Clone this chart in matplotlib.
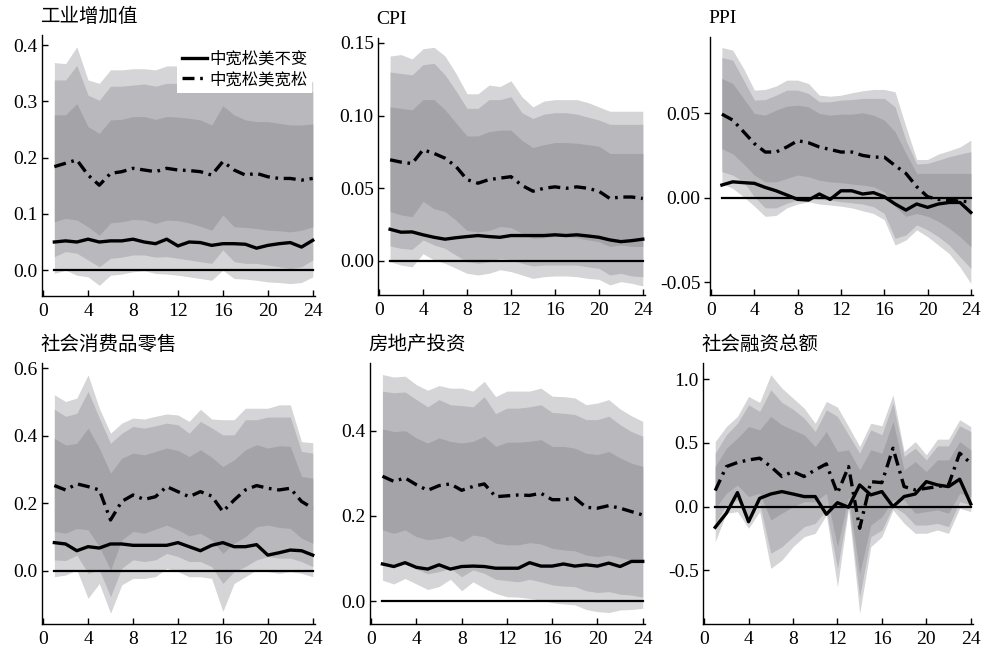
import numpy as np
import matplotlib
matplotlib.use("Agg")
import matplotlib.pyplot as plt

plt.rcParams['font.family'] = ['Liberation Serif', 'Noto Sans CJK SC', 'DejaVu Sans']
plt.rcParams['axes.unicode_minus'] = True

months = np.arange(1, 25)

# --- 工业增加值 ---
ip_base = [0.050, 0.052, 0.050, 0.055, 0.050, 0.052, 0.052, 0.055, 0.050, 0.047, 0.055, 0.043,
           0.050, 0.049, 0.044, 0.047, 0.047, 0.046, 0.039, 0.044, 0.047, 0.049, 0.041, 0.053]
ip_ease = [0.184, 0.190, 0.196, 0.169, 0.151, 0.172, 0.175, 0.181, 0.178, 0.175, 0.181, 0.178,
           0.177, 0.175, 0.169, 0.193, 0.178, 0.169, 0.172, 0.166, 0.163, 0.163, 0.160, 0.163]
ip_hi1 = [0.369, 0.367, 0.397, 0.338, 0.332, 0.356, 0.356, 0.358, 0.358, 0.356, 0.363, 0.363,
          0.362, 0.358, 0.356, 0.360, 0.352, 0.350, 0.350, 0.348, 0.348, 0.345, 0.335, 0.335]
ip_hi2 = [0.338, 0.338, 0.364, 0.311, 0.302, 0.327, 0.327, 0.329, 0.331, 0.327, 0.332, 0.332,
          0.330, 0.328, 0.325, 0.330, 0.325, 0.322, 0.320, 0.320, 0.318, 0.317, 0.317, 0.317]
ip_hi3 = [0.276, 0.276, 0.296, 0.255, 0.243, 0.267, 0.268, 0.273, 0.273, 0.268, 0.273, 0.272,
          0.270, 0.267, 0.258, 0.292, 0.276, 0.267, 0.264, 0.264, 0.261, 0.258, 0.258, 0.260]
ip_lo3 = [0.086, 0.092, 0.089, 0.077, 0.062, 0.084, 0.086, 0.090, 0.089, 0.083, 0.089, 0.088,
          0.084, 0.078, 0.071, 0.098, 0.077, 0.076, 0.074, 0.071, 0.070, 0.068, 0.071, 0.077]
ip_lo2 = [0.024, 0.033, 0.030, 0.018, 0.006, 0.021, 0.023, 0.027, 0.027, 0.023, 0.024, 0.021,
          0.018, 0.015, 0.012, 0.036, 0.015, 0.012, 0.012, 0.009, 0.006, 0.003, 0.006, 0.018]
ip_lo1 = [-0.006, 0.000, -0.009, -0.012, -0.027, -0.009, -0.007, -0.003, -0.001, -0.006, -0.007, -0.009,
          -0.012, -0.015, -0.018, 0.000, -0.015, -0.016, -0.018, -0.021, -0.022, -0.024, -0.022, -0.012]

# --- CPI ---
cpi_base = [0.0218, 0.0198, 0.0200, 0.0180, 0.0163, 0.0150, 0.0160, 0.0168, 0.0175, 0.0168, 0.0163, 0.0175,
            0.0175, 0.0175, 0.0175, 0.0180, 0.0175, 0.0180, 0.0172, 0.0163, 0.0145, 0.0133, 0.0140, 0.0150]
cpi_ease = [0.0696, 0.068, 0.067, 0.0765, 0.074, 0.0707, 0.065, 0.056, 0.0535, 0.056, 0.057, 0.058,
            0.052, 0.048, 0.050, 0.051, 0.050, 0.051, 0.050, 0.048, 0.043, 0.044, 0.044, 0.043]
cpi_hi1 = [0.141, 0.142, 0.139, 0.146, 0.147, 0.141, 0.129, 0.115, 0.115, 0.121, 0.120, 0.124,
           0.113, 0.106, 0.110, 0.111, 0.111, 0.111, 0.109, 0.106, 0.103, 0.103, 0.103, 0.103]
cpi_hi2 = [0.130, 0.129, 0.128, 0.135, 0.136, 0.128, 0.117, 0.105, 0.105, 0.111, 0.111, 0.113,
           0.102, 0.098, 0.101, 0.102, 0.102, 0.101, 0.099, 0.097, 0.094, 0.094, 0.094, 0.094]
cpi_hi3 = [0.106, 0.105, 0.104, 0.111, 0.111, 0.104, 0.095, 0.086, 0.086, 0.089, 0.090, 0.090,
           0.083, 0.078, 0.080, 0.0815, 0.0815, 0.081, 0.080, 0.079, 0.074, 0.074, 0.074, 0.074]
cpi_lo3 = [0.034, 0.0317, 0.0305, 0.041, 0.036, 0.034, 0.028, 0.021, 0.020, 0.021, 0.0237, 0.023,
           0.019, 0.0156, 0.016, 0.0168, 0.0168, 0.016, 0.0145, 0.0133, 0.010, 0.011, 0.010, 0.010]
cpi_lo2 = [0.0103, 0.0087, 0.008, 0.0145, 0.011, 0.0087, 0.004, -0.0005, -0.0016, -0.0005, 0.0018, 0.001,
           -0.0016, -0.0034, -0.0028, -0.0028, -0.0028, -0.0028, -0.004, -0.005, -0.0096, -0.0085, -0.0103, -0.0108]
cpi_lo1 = [-0.0005, -0.0028, -0.004, 0.005, 0.0007, -0.0016, -0.005, -0.0085, -0.0096, -0.0085, -0.006, -0.0073,
           -0.0096, -0.012, -0.0108, -0.0103, -0.0103, -0.0108, -0.012, -0.0126, -0.0165, -0.0142, -0.0154, -0.0172]

# --- PPI ---
ppi_base = [0.0075, 0.0094, 0.0089, 0.0085, 0.0061, 0.0041, 0.0016, -0.001, -0.0014, 0.0022, -0.001, 0.0041,
            0.0041, 0.0022, 0.003, 0.0006, -0.0037, -0.0073, -0.0037, -0.0057, -0.0037, -0.0028, -0.0028, -0.0087]
ppi_ease = [0.0494, 0.0459, 0.039, 0.032, 0.027, 0.027, 0.030, 0.0337, 0.0325, 0.030, 0.0285, 0.027,
            0.027, 0.025, 0.024, 0.024, 0.019, 0.0144, 0.0065, 0.0006, -0.001, -0.0015, -0.002, -0.0025]
ppi_hi1 = [0.0888, 0.0872, 0.0764, 0.0636, 0.064, 0.066, 0.0695, 0.0695, 0.0675, 0.0606, 0.060, 0.0606,
           0.062, 0.0632, 0.064, 0.064, 0.0626, 0.042, 0.0226, 0.0226, 0.0258, 0.0278, 0.030, 0.034]
ppi_hi2 = [0.0829, 0.0813, 0.0695, 0.0577, 0.058, 0.0606, 0.0636, 0.0636, 0.0616, 0.0567, 0.0567, 0.0577,
           0.058, 0.0587, 0.0587, 0.0587, 0.0537, 0.034, 0.0199, 0.0203, 0.0222, 0.0242, 0.0258, 0.0272]
ppi_hi3 = [0.0705, 0.0675, 0.0587, 0.0498, 0.0488, 0.0518, 0.0541, 0.0547, 0.0537, 0.0498, 0.0488, 0.0494,
           0.0494, 0.0502, 0.0488, 0.0459, 0.039, 0.0262, 0.0144, 0.0144, 0.0144, 0.0144, 0.0144, 0.0144]
ppi_lo3 = [0.029, 0.026, 0.020, 0.0134, 0.0094, 0.0094, 0.0114, 0.0134, 0.0124, 0.0104, 0.0094, 0.0089,
           0.0081, 0.0075, 0.0065, 0.0035, -0.0053, -0.011, -0.0093, -0.011, -0.014, -0.018, -0.023, -0.029]
ppi_lo2 = [0.0154, 0.0134, 0.0094, 0.0006, -0.006, -0.006, -0.0033, -0.0014, -0.0004, -0.001, -0.0014, -0.0024,
           -0.003, -0.0037, -0.0053, -0.0093, -0.024, -0.022, -0.016, -0.019, -0.023, -0.028, -0.035, -0.0417]
ppi_lo1 = [0.0085, 0.0055, 0.0006, -0.005, -0.011, -0.0105, -0.006, -0.0037, -0.0024, -0.0037, -0.0043, -0.005,
           -0.006, -0.0077, -0.0093, -0.013, -0.028, -0.025, -0.019, -0.023, -0.028, -0.033, -0.041, -0.0506]

# --- 社会消费品零售 ---
rt_base = [0.083, 0.079, 0.059, 0.071, 0.067, 0.079, 0.079, 0.075, 0.075, 0.075, 0.075, 0.083,
           0.071, 0.059, 0.075, 0.083, 0.071, 0.071, 0.077, 0.046, 0.053, 0.061, 0.059, 0.046]
rt_ease = [0.252, 0.239, 0.257, 0.249, 0.239, 0.150, 0.205, 0.224, 0.211, 0.219, 0.249, 0.234,
           0.219, 0.234, 0.221, 0.175, 0.209, 0.239, 0.252, 0.244, 0.239, 0.244, 0.205, 0.185]
rt_hi1 = [0.521, 0.501, 0.511, 0.580, 0.481, 0.407, 0.437, 0.452, 0.449, 0.457, 0.464, 0.461,
          0.442, 0.478, 0.449, 0.447, 0.447, 0.481, 0.481, 0.481, 0.491, 0.491, 0.382, 0.379]
rt_hi2 = [0.478, 0.457, 0.466, 0.531, 0.452, 0.377, 0.407, 0.427, 0.422, 0.429, 0.437, 0.432,
          0.407, 0.442, 0.423, 0.402, 0.402, 0.447, 0.447, 0.455, 0.455, 0.455, 0.353, 0.348]
rt_hi3 = [0.392, 0.372, 0.377, 0.422, 0.363, 0.289, 0.333, 0.348, 0.343, 0.353, 0.363, 0.356,
          0.338, 0.358, 0.336, 0.308, 0.328, 0.358, 0.373, 0.363, 0.370, 0.368, 0.279, 0.274]
rt_lo3 = [0.116, 0.111, 0.125, 0.121, 0.071, 0.002, 0.091, 0.116, 0.111, 0.123, 0.135, 0.121,
          0.103, 0.111, 0.091, 0.051, 0.081, 0.101, 0.130, 0.135, 0.128, 0.125, 0.096, 0.081]
rt_lo2 = [0.032, 0.030, 0.046, -0.008, 0.002, -0.077, 0.007, 0.032, 0.027, 0.032, 0.051, 0.042,
          0.027, 0.027, 0.012, -0.038, -0.003, 0.012, 0.032, 0.042, 0.037, 0.037, 0.027, 0.012]
rt_lo1 = [-0.018, -0.013, 0.002, -0.082, -0.038, -0.126, -0.042, -0.023, -0.023, -0.018, 0.007, -0.003,
          -0.018, -0.018, -0.023, -0.121, -0.038, -0.018, 0.002, -0.003, -0.008, -0.003, -0.008, -0.018]

# --- 房地产投资 ---
re_base = [0.087, 0.081, 0.090, 0.079, 0.075, 0.085, 0.075, 0.081, 0.082, 0.081, 0.077, 0.077,
           0.077, 0.090, 0.082, 0.082, 0.087, 0.082, 0.085, 0.082, 0.089, 0.081, 0.093, 0.093]
re_ease = [0.293, 0.281, 0.289, 0.273, 0.260, 0.271, 0.275, 0.260, 0.269, 0.275, 0.245, 0.247,
           0.249, 0.248, 0.253, 0.238, 0.238, 0.242, 0.220, 0.218, 0.224, 0.218, 0.210, 0.202]
re_hi1 = [0.532, 0.526, 0.528, 0.508, 0.495, 0.506, 0.500, 0.500, 0.493, 0.516, 0.480, 0.493,
          0.493, 0.493, 0.500, 0.481, 0.480, 0.477, 0.461, 0.465, 0.473, 0.451, 0.435, 0.422]
re_hi2 = [0.493, 0.489, 0.491, 0.473, 0.456, 0.473, 0.461, 0.459, 0.456, 0.480, 0.440, 0.453,
          0.453, 0.456, 0.461, 0.443, 0.441, 0.438, 0.426, 0.426, 0.434, 0.414, 0.398, 0.387]
re_hi3 = [0.404, 0.398, 0.400, 0.383, 0.371, 0.383, 0.375, 0.371, 0.375, 0.387, 0.363, 0.373,
          0.373, 0.375, 0.379, 0.363, 0.363, 0.359, 0.347, 0.344, 0.351, 0.336, 0.324, 0.316]
re_lo3 = [0.167, 0.159, 0.167, 0.151, 0.144, 0.147, 0.153, 0.140, 0.155, 0.151, 0.136, 0.132,
          0.132, 0.137, 0.134, 0.124, 0.120, 0.118, 0.108, 0.104, 0.108, 0.102, 0.096, 0.090]
re_lo2 = [0.089, 0.081, 0.093, 0.075, 0.064, 0.069, 0.077, 0.057, 0.073, 0.065, 0.051, 0.048,
          0.045, 0.051, 0.045, 0.038, 0.035, 0.034, 0.024, 0.020, 0.022, 0.016, 0.014, 0.009]
re_lo1 = [0.049, 0.040, 0.053, 0.040, 0.027, 0.034, 0.051, 0.024, 0.045, 0.030, 0.018, 0.010,
          0.009, 0.006, 0.002, -0.004, -0.007, -0.009, -0.020, -0.025, -0.027, -0.021, -0.020, -0.017]

# --- 社会融资总额 ---
tsf_base = [-0.162, -0.052, 0.110, -0.118, 0.065, 0.099, 0.118, 0.099, 0.079, 0.079, -0.060, 0.031,
            -0.005, 0.170, 0.092, 0.118, 0.000, 0.079, 0.099, 0.196, 0.170, 0.157, 0.215, 0.021]
tsf_ease = [0.126, 0.314, 0.346, 0.366, 0.380, 0.314, 0.236, 0.275, 0.236, 0.288, 0.335, 0.105,
            0.314, -0.170, 0.196, 0.188, 0.458, 0.157, 0.131, 0.144, 0.157, 0.170, 0.419, 0.340]
tsf_hi1 = [0.510, 0.628, 0.707, 0.864, 0.817, 1.034, 0.929, 0.851, 0.772, 0.654, 0.825, 0.780,
           0.628, 0.471, 0.654, 0.634, 0.877, 0.432, 0.510, 0.406, 0.529, 0.529, 0.681, 0.628]
tsf_hi2 = [0.419, 0.563, 0.654, 0.798, 0.746, 0.916, 0.817, 0.764, 0.694, 0.589, 0.759, 0.707,
           0.563, 0.419, 0.602, 0.563, 0.812, 0.393, 0.458, 0.366, 0.476, 0.476, 0.634, 0.589]
tsf_hi3 = [0.314, 0.458, 0.537, 0.628, 0.602, 0.707, 0.641, 0.602, 0.563, 0.471, 0.589, 0.432,
           0.445, 0.288, 0.445, 0.419, 0.668, 0.288, 0.353, 0.275, 0.366, 0.366, 0.510, 0.445]
tsf_lo3 = [-0.013, 0.105, 0.170, 0.079, 0.105, -0.105, -0.052, 0.000, 0.039, 0.039, 0.105, -0.314,
           0.079, -0.524, -0.144, -0.079, 0.052, 0.052, -0.052, -0.039, -0.026, -0.052, 0.105, 0.079]
tsf_lo2 = [-0.131, 0.013, 0.052, -0.105, 0.026, -0.366, -0.314, -0.236, -0.157, -0.131, -0.026, -0.484,
           0.013, -0.707, -0.236, -0.183, 0.000, -0.052, -0.144, -0.144, -0.131, -0.157, 0.039, 0.013]
tsf_lo1 = [-0.275, -0.052, -0.039, -0.170, -0.039, -0.484, -0.419, -0.314, -0.236, -0.209, -0.065, -0.628,
           -0.013, -0.838, -0.314, -0.236, -0.026, -0.131, -0.209, -0.209, -0.183, -0.209, -0.013, -0.039]

titles = ['工业增加值', 'CPI', 'PPI', '社会消费品零售', '房地产投资', '社会融资总额']
legend_labels = ['中宽松美不变', '中宽松美宽松']

panels = [
    (ip_base, ip_ease, ip_lo1, ip_lo2, ip_lo3, ip_hi3, ip_hi2, ip_hi1),
    (cpi_base, cpi_ease, cpi_lo1, cpi_lo2, cpi_lo3, cpi_hi3, cpi_hi2, cpi_hi1),
    (ppi_base, ppi_ease, ppi_lo1, ppi_lo2, ppi_lo3, ppi_hi3, ppi_hi2, ppi_hi1),
    (rt_base, rt_ease, rt_lo1, rt_lo2, rt_lo3, rt_hi3, rt_hi2, rt_hi1),
    (re_base, re_ease, re_lo1, re_lo2, re_lo3, re_hi3, re_hi2, re_hi1),
    (tsf_base, tsf_ease, tsf_lo1, tsf_lo2, tsf_lo3, tsf_hi3, tsf_hi2, tsf_hi1),
]

# layout (pixels -> figure fractions) and axis settings
W, H = 985, 654
boxes_px = [(42, 315, 35, 296), (378, 645, 38, 295), (710, 973, 37, 295),
            (42, 315, 363, 624), (370, 645, 363, 624), (703, 973, 363, 624)]
ylims = [(-0.046, 0.418), (-0.0234, 0.1534), (-0.0575, 0.095),
         (-0.158, 0.615), (-0.054, 0.559), (-0.92, 1.126)]
yticks = [[0.0, 0.1, 0.2, 0.3, 0.4], [0.0, 0.05, 0.10, 0.15], [-0.05, 0.0, 0.05],
          [0.0, 0.2, 0.4, 0.6], [0.0, 0.2, 0.4], [-0.5, 0.0, 0.5, 1.0]]
yfmt = ['{:.1f}', '{:.2f}', '{:.2f}', '{:.1f}', '{:.1f}', '{:.1f}']

band_colors = ['#d5d5d7', '#b9b9bd', '#a4a4a8']
dash_style = (0, (3.6, 1.7, 0.8, 1.7))

fig = plt.figure(figsize=(W / 100, H / 100), dpi=100)

for i, (data, box) in enumerate(zip(panels, boxes_px)):
    base, ease, lo1, lo2, lo3, hi3, hi2, hi1 = data
    l, r, t, b = box
    ax = fig.add_axes([l / W, 1 - b / H, (r - l) / W, (b - t) / H])

    ax.fill_between(months, lo1, hi1, color=band_colors[0], lw=0, zorder=1)
    ax.fill_between(months, lo2, hi2, color=band_colors[1], lw=0, zorder=2)
    ax.fill_between(months, lo3, hi3, color=band_colors[2], lw=0, zorder=3)

    ax.plot(months, np.zeros(len(months)), color='black', lw=1.6, zorder=4)
    l1, = ax.plot(months, base, color='black', lw=2.4, zorder=5)
    l2, = ax.plot(months, ease, color='black', lw=2.4, linestyle=dash_style, zorder=6)

    ax.set_xlim(-0.1, 24.2)
    ax.set_ylim(*ylims[i])
    ax.set_xticks(range(0, 25, 4))
    ax.set_yticks(yticks[i])
    ax.set_yticklabels([yfmt[i].format(v) for v in yticks[i]])

    for s in ['top', 'right']:
        ax.spines[s].set_visible(False)
    for s in ['left', 'bottom']:
        ax.spines[s].set_linewidth(1.0)
    ax.tick_params(axis='x', direction='in', length=4, width=1.0, labelsize=14, pad=5)
    ax.tick_params(axis='y', direction='in', length=4, width=1.0, labelsize=14, pad=3)
    if i == 2:
        ax.tick_params(axis='y', direction='out')

    ax.annotate(titles[i], xy=(0, 1), xycoords='axes fraction', xytext=(-1, 13),
                textcoords='offset points', ha='left', va='center', fontsize=14)

    if i == 0:
        leg = ax.legend([l1, l2], legend_labels, loc='upper right', bbox_to_anchor=(1.02, 0.985),
                        fontsize=11.8, frameon=True, fancybox=False, handlelength=1.5,
                        handletextpad=0.15, borderpad=0.3, labelspacing=0.25)
        leg.get_frame().set_facecolor('white')
        leg.get_frame().set_edgecolor('none')
        leg.get_frame().set_alpha(1.0)
        leg.set_zorder(10)

fig.savefig('out.png', dpi=100)
